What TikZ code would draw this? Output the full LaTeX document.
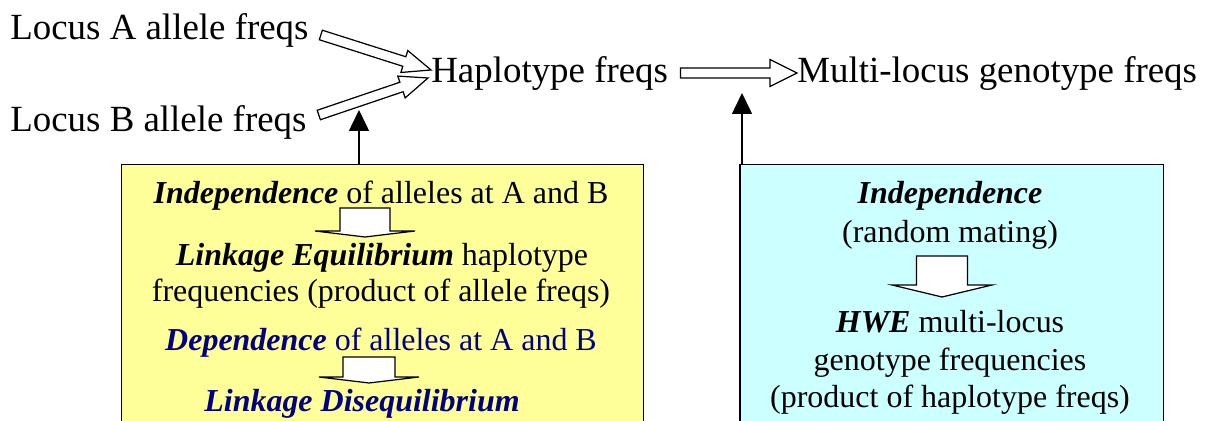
\documentclass[tikz,border=0pt]{standalone}
\usepackage{fontspec}
\setmainfont{Liberation Serif}
\usetikzlibrary{positioning, arrows.meta, calc}

\definecolor{ld_yellow}{HTML}{FFFF99}
\definecolor{hwe_cyan}{HTML}{CCFFFF}
\definecolor{dep_navy}{HTML}{000080}

% hollow block arrow: tail, tip, shaft half width, head half width, head length
\newcommand{\fatarrow}[5]{%
    \coordinate (fa-base) at ($(#2)!#5!(#1)$);
    \draw[fatline] ($(#1)!#3!90:(#2)$) -- ($(fa-base)!#3!90:(#2)$) -- ($(fa-base)!#4!90:(#2)$) -- (#2)
        -- ($(fa-base)!#4!-90:(#2)$) -- ($(fa-base)!#3!-90:(#2)$) -- ($(#1)!#3!-90:(#2)$) -- cycle;
}

\begin{document}
\begin{tikzpicture}[
    x=0.02cm, y=-0.02cm,
    >={Triangle[length=4.2mm, width=4mm]},
    lbl/.style={
        font=\fontsize{21}{25}\selectfont,
        inner sep=0pt,
        anchor=base west
    },
    txt/.style={
        font=\fontsize{18.2}{22}\selectfont,
        inner sep=0pt,
        anchor=base,
        text=#1
    },
    txt/.default=black,
    box/.style={
        rectangle,
        draw=black,
        fill=#1,
        line width=0.85pt,
        anchor=north west,
        minimum height=6cm,
        inner sep=0pt
    },
    fatline/.style={
        draw=black,
        fill=white,
        line width=0.7pt,
        line join=miter
    },
    uparrow/.style={
        ->,
        line width=0.85pt
    }
]

\useasboundingbox (0,0) rectangle (1212,421);
\clip (0,0) rectangle (1212,421);

% Top row
\node[lbl] (locA) at (10,40) {Locus A allele freqs};
\node[lbl] (locB) at (10,132) {Locus B allele freqs};
\node[lbl] (haplo) at (431,83) {Haplotype freqs};
\node[lbl] (multi) at (797,83) {Multi-locus genotype freqs};

% Block arrows
\fatarrow{$(locA.base east)+(12,-5)$}{$(haplo.base west)+(0,-13)$}{1mm}{2.3mm}{5.6mm}
\fatarrow{$(locB.base east)+(12,-17)$}{$(haplo.base west)+(-3,-5)$}{1mm}{2.3mm}{5.6mm}
\fatarrow{$(haplo.base east)+(12,-10)$}{$(multi.base west)+(0,-10)$}{1mm}{2.7mm}{5.4mm}

% Box 1
\node[box=ld_yellow, minimum width=10.44cm] (ldBox) at (121,164) {};
\node[txt] (indAB) at (381,204) {\textbf{\textit{Independence}} of alleles at A and B};
\node[txt] (leq) at (382,266) {\textbf{\textit{Linkage Equilibrium}} haplotype};
\node[txt] (leqFreq) at (381,302) {frequencies (product of allele freqs)};
\node[txt=dep_navy] (depAB) at (381,351) {\textbf{\textit{Dependence}} of alleles at A and B};
\node[txt=dep_navy] (ldis) at (362,412) {\textbf{\textit{Linkage Disequilibrium}}};

\fatarrow{$(indAB.base)+(-16,4)$}{$(indAB.base)+(-16,33)$}{5mm}{10mm}{1.2mm}
\fatarrow{$(depAB.base)+(-12,6)$}{$(depAB.base)+(-12,32)$}{5.2mm}{10mm}{1.2mm}

% Box 2
\node[box=hwe_cyan, minimum width=8.48cm] (hweBox) at (739,164) {};
\node[txt] (indRM) at (950,204) {\textbf{\textit{Independence}}};
\node[txt] (randMat) at (950,243) {(random mating)};
\node[txt] (hwe) at (950,333) {\textbf{\textit{HWE}} multi-locus};
\node[txt] (hweFreq) at (950,371) {genotype frequencies};
\node[txt] (hweProd) at (950,408) {(product of haplotype freqs)};

\fatarrow{$(randMat.base)+(-8,13)$}{$(randMat.base)+(-8,54)$}{5.1mm}{10mm}{2.4mm}

% Arrows
\coordinate (ldTip) at (359,110);
\coordinate (hweTip) at (742,93);
\draw[uparrow] (ldTip |- ldBox.north) -- (ldTip);
\draw[uparrow] (hweTip |- hweBox.north) -- (hweTip);

\end{tikzpicture}
\end{document}
